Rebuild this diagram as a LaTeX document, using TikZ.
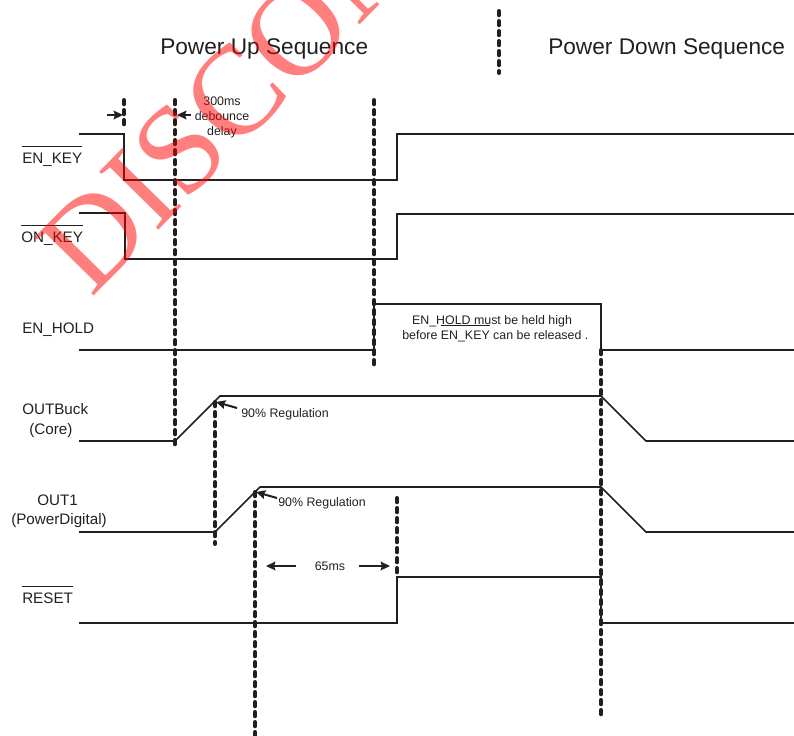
\documentclass[tikz,border=0pt]{standalone}
\usepackage{fontspec}
\setmainfont{Liberation Sans}
\newfontfamily\wmfont{Liberation Serif}
\definecolor{ink}{HTML}{231F20}
\newcommand{\olbar}[2][12pt]{\leavevmode\setbox0=\hbox{#2}\rlap{\rule[#1]{\wd0}{0.7pt}}\box0\relax}
\usetikzlibrary{arrows.meta}
\tikzset{
  x=0.75pt,y=-0.75pt,
  sig/.style={draw=ink,line width=1.25pt,line join=miter},
  ticks/.style={draw=ink,line width=3pt,line cap=round,dash pattern=on 3.2pt off 4.3pt},
  pointer/.style={draw=ink,line width=1.5pt,-{Stealth[length=7pt,width=6.5pt,inset=1pt]}},
  title/.style={text=ink,font=\fontsize{17pt}{20pt}\selectfont,anchor=base west,inner sep=0pt},
  lab/.style={text=ink,font=\fontsize{11.4pt}{13pt}\selectfont,anchor=base west,inner sep=0pt},
  small/.style={text=ink,font=\fontsize{9.3pt}{11pt}\selectfont,anchor=base,inner sep=0pt},
}
\begin{document}
\begin{tikzpicture}
\useasboundingbox (0,0) rectangle (794,736);
\clip (0,0) rectangle (794,736);
% titles
\node[title] (tup) at (160,54) {Power Up Sequence};
\node[title] (tdown) at (548,54) {Power Down Sequence};
% signals
\draw[sig] (79,134) -- (124,134) -- (124,180) -- (397,180) -- (397,134) -- (794,134);
\draw[sig] (79,213) -- (125,213) -- (125,259) -- (397,259) -- (397,214) -- (794,214);
\draw[sig] (79,350) -- (374,350) -- (374,304) -- (601,304) -- (601,350) -- (794,350);
\draw[sig] (79,441) -- (175,441) -- (220,396) -- (601,396) -- (646,441) -- (794,441);
\draw[sig] (79,532) -- (215,532) -- (260,487) -- (601,487) -- (646,532) -- (794,532);
\draw[sig] (79,623) -- (397,623) -- (397,577) -- (601,577) -- (601,623) -- (794,623);
% dashed markers
\draw[ticks] (499,11) -- (499,73);
\draw[ticks] (124,100) -- (124,128);
\draw[ticks] (175,100) -- (175,445);
\draw[ticks] (374,100) -- (374,369);
\draw[ticks] (215,402) -- (215,544);
\draw[ticks] (255,492) -- (255,736);
\draw[ticks] (397,498) -- (397,576);
\draw[ticks] (601,350) -- (601,715);
% signal labels
\node[lab] (enkey) at (22,163) {\olbar{EN\_KEY}};
\node[lab] (onkey) at (21,242) {\olbar{ON\_KEY}};
\node[lab] (enhold) at (22,333) {EN\_HOLD};
\node[lab] (outbuck) at (22,414) {OUTBuck};
\node[lab] (core) at (29,434) {(Core)};
\node[lab] (outone) at (37,505) {OUT1};
\node[lab] (powerd) at (11,524) {(PowerDigital)};
\node[lab] (reset) at (22,603) {\olbar{RESET}};
% annotations
\node[small] (ms300) at (222,105) {300ms};
\node[small] (deb) at (222,120) {debounce};
\node[small] (dly) at (222,135) {delay};
\node[small] (hold1) at (492,324) {EN\_HOLD must be held high};
\node[small,anchor=base west] (hold2) at (402,339) {before \olbar[10pt]{EN\_KEY} can be released .};
\node[small,anchor=base west] (reg1) at (241,417) {90\% Regulation};
\node[small,anchor=base west] (reg2) at (278,506) {90\% Regulation};
\node[small] (ms65) at (330,570) {65ms};
% arrows
\coordinate (a1) at (107,115); \coordinate (a1e) at (123,115);
\coordinate (a2) at (191,115); \coordinate (a2e) at (177,115);
\coordinate (a3) at (237,408); \coordinate (a3e) at (216,402);
\coordinate (a4) at (277,498); \coordinate (a4e) at (256,492);
\coordinate (a5) at (296,566); \coordinate (a5e) at (266,566);
\coordinate (a6) at (359,566); \coordinate (a6e) at (390,566);
\draw[pointer] (a1) -- (a1e);
\draw[pointer] (a2) -- (a2e);
\draw[pointer] (a3) -- (a3e);
\draw[pointer] (a4) -- (a4e);
\draw[pointer] (a5) -- (a5e);
\draw[pointer] (a6) -- (a6e);
% watermark
\node[anchor=base west,inner sep=0pt,rotate=45.5,text=red,text opacity=0.5,font=\wmfont\fontsize{95pt}{100pt}\selectfont] (wm) at (91,299) {DISCON};
\end{tikzpicture}
\end{document}
